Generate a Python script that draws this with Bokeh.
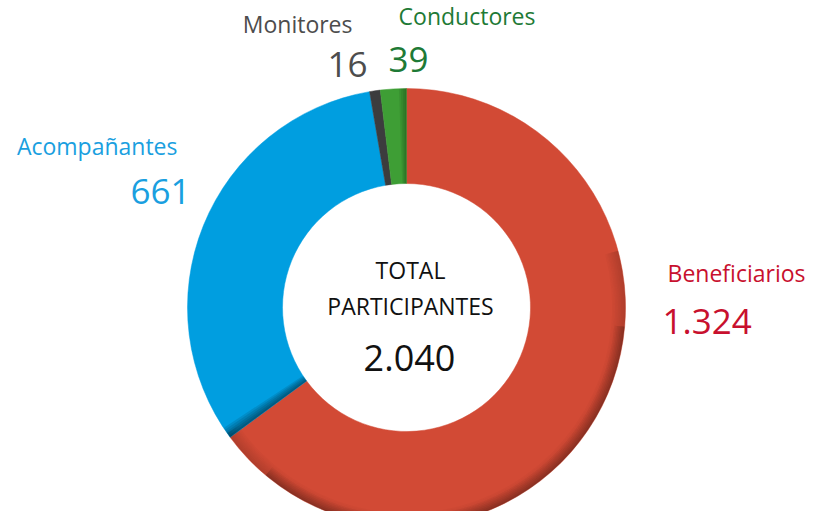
import math
from bokeh.plotting import figure
from bokeh.models import Range1d
from bokeh.core.properties import value
from bokeh.embed import file_html
from bokeh.resources import INLINE

categories = ["Beneficiarios", "Acompañantes", "Monitores", "Conductores"]
counts = [1324, 661, 16, 39]
count_labels = ["1.324", "661", "16", "39"]
slice_colors = ["#d24a35", "#009ee0", "#3c3c3e", "#3e9e35"]
label_colors = ["#c8102e", "#1a9fe0", "#4d4d4d", "#1e7a36"]
center_lines = ["TOTAL", "PARTICIPANTES"]
total_label = "2.040"

W, H = 807, 511
p = figure(width=W, height=H, output_backend="svg", toolbar_location=None,
           x_range=Range1d(0, W), y_range=Range1d(0, H),
           min_border=0, outline_line_color=None)
p.axis.visible = False
p.grid.visible = False
p.background_fill_color = "white"
p.border_fill_color = "white"

def Y(img_y):
    return H - img_y

cx, cy = 406, Y(307)
r_out, r_in = 219, 124

total = sum(counts)
cum = 0.0
starts, ends = [], []
for c in counts:
    a0 = math.pi / 2 - 2 * math.pi * cum / total
    cum += c
    a1 = math.pi / 2 - 2 * math.pi * cum / total
    starts.append(a0)
    ends.append(a1)

p.annular_wedge(x=[cx] * 4, y=[cy] * 4, inner_radius=r_in, outer_radius=r_out,
                start_angle=starts, end_angle=ends, direction="clock",
                fill_color=slice_colors, line_color=slice_colors, line_width=0.5)

# 3D-like shading: darker outer rim on the lower right
nb = 9
for i in range(nb):
    ro = r_out - i * 1.5
    p.annular_wedge(x=[cx], y=[cy], inner_radius=ro - 1.5, outer_radius=ro,
                    start_angle=math.radians(15), end_angle=math.radians(-145),
                    direction="clock", fill_color="black", line_color=None,
                    fill_alpha=0.16 * (nb - i) / nb)
nb2 = 7
for i in range(nb2):
    ro = r_out - i * 1.5
    p.annular_wedge(x=[cx], y=[cy], inner_radius=ro - 1.5, outer_radius=ro,
                    start_angle=math.radians(-5), end_angle=math.radians(-130),
                    direction="clock", fill_color="black", line_color=None,
                    fill_alpha=0.22 * (nb2 - i) / nb2)
# shadow on blue along red boundary (lower-left)
b_end = starts[1]
for i in range(5):
    w = math.radians(0.6 * (i + 1))
    p.annular_wedge(x=[cx], y=[cy], inner_radius=r_in, outer_radius=r_out,
                    start_angle=b_end, end_angle=b_end - w, direction="clock",
                    fill_color="black", line_color=None, fill_alpha=0.10)
# shadow on green right side
for i in range(4):
    w = math.radians(0.5 * (i + 1))
    p.annular_wedge(x=[cx], y=[cy], inner_radius=r_in, outer_radius=r_out,
                    start_angle=ends[3] + w, end_angle=ends[3], direction="clock",
                    fill_color="black", line_color=None, fill_alpha=0.07)

font = value("Open Sans")
# category labels
lab_x = [805, 177, 352, 535]
lab_y = [Y(272), Y(145), Y(23), Y(15)]
p.text(x=lab_x, y=lab_y, text=categories, text_color=label_colors,
       text_font=font, text_font_size="23px", text_align="right",
       text_baseline="alphabetic")
num_x = [662, 190, 367, 388]
num_y = [Y(321), Y(191), Y(64), Y(59)]
num_align = ["left", "right", "right", "left"]
for i in range(4):
    p.text(x=[num_x[i]], y=[num_y[i]], text=[count_labels[i]],
           text_color=label_colors[i], text_font=font, text_font_size="35px",
           text_align=num_align[i], text_baseline="alphabetic")

p.text(x=[410, 410], y=[Y(269), Y(305)], text=center_lines,
       text_color="#111111", text_font=font, text_font_size="23px",
       text_align="center", text_baseline="alphabetic")
p.text(x=[409], y=[Y(357)], text=[total_label], text_color="#111111",
       text_font=font, text_font_size="36px", text_align="center",
       text_baseline="alphabetic")

open("out.html", "w").write(file_html(p, INLINE))
